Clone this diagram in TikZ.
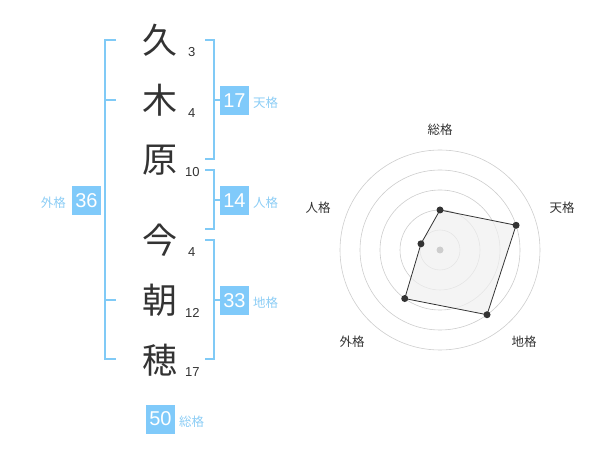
\documentclass[tikz,border=0pt]{standalone}
\usepackage{fontspec}
\usetikzlibrary{calc}
\setmainfont{Liberation Sans}
\newfontfamily\jp{Noto Sans CJK JP}
\definecolor{brk}{RGB}{128,202,246}
\definecolor{boxc}{RGB}{128,202,250}
\definecolor{lbl}{RGB}{140,205,245}
\definecolor{ink}{RGB}{51,51,51}
\definecolor{ring}{RGB}{205,205,205}
\begin{document}
\begin{tikzpicture}[x=1pt,y=-1pt,
  kanji/.style={font=\jp\fontsize{35}{35}\selectfont, text=ink, inner sep=0},
  strokes/.style={font=\fontsize{13}{13}\selectfont, text=ink, inner sep=0},
  numbox/.style={fill=boxc, text=white, minimum width=29pt, minimum height=29pt, inner sep=0, font=\fontsize{20}{20}\selectfont},
  kaku/.style={font=\jp\fontsize{12.5}{13}\selectfont, text=lbl, inner sep=0},
  bracket/.style={draw=brk, line width=2pt},
  rlabel/.style={font=\jp\fontsize{12.5}{13}\selectfont, text=ink, inner sep=0},
  dot/.style={circle, fill=ink, inner sep=0, minimum size=7pt}]
\useasboundingbox (0,0) rectangle (600,470);
% kanji
\node[kanji] (k1) at (160,40) {久};
\node[kanji] (k2) at (160,100) {木};
\node[kanji] (k3) at (160,160) {原};
\node[kanji] (k4) at (160,240) {今};
\node[kanji] (k5) at (160,300) {朝};
\node[kanji] (k6) at (160,360) {穂};
% stroke counts
\node[strokes, anchor=west] (s1) at (188,52.5) {3};
\node[strokes, anchor=west] (s2) at (188,113) {4};
\node[strokes, anchor=west] (s3) at (185,172.5) {10};
\node[strokes, anchor=west] (s4) at (188,252.5) {4};
\node[strokes, anchor=west] (s5) at (185,312.5) {12};
\node[strokes, anchor=west] (s6) at (185,372.5) {17};
% brackets
\draw[bracket] (116,40) -- (105,40) -- (105,359) -- (116,359);
\draw[bracket] (105,100) -- (116,100);
\draw[bracket] (105,300) -- (116,300);
\draw[bracket] (205,40) -- (214,40) -- (214,159) -- (205,159);
\draw[bracket] (214,100) -- (220,100);
\draw[bracket] (205,170) -- (214,170) -- (214,229) -- (205,229);
\draw[bracket] (214,200) -- (220,200);
\draw[bracket] (205,240) -- (214,240) -- (214,359) -- (205,359);
\draw[bracket] (214,300) -- (220,300);
% boxes
\node[numbox] (b17) at (234.5,100.5) {17};
\node[kaku, anchor=west] (t17) at (253,103) {天格};
\node[numbox] (b14) at (234.5,200.5) {14};
\node[kaku, anchor=west] (t14) at (253,203) {人格};
\node[numbox] (b36) at (86.5,200.5) {36};
\node[kaku, anchor=east] (t36) at (66,203) {外格};
\node[numbox] (b33) at (234.5,300.5) {33};
\node[kaku, anchor=west] (t33) at (253,303) {地格};
\node[numbox] (b50) at (160.5,419) {50};
\node[kaku, anchor=west] (t50) at (179,422) {総格};
% radar
\coordinate (c) at (440,250);
\foreach \r in {20,40,60,80,100} \draw[ring, line width=0.6pt] (c) circle[radius=\r];
\coordinate (p1) at ($(c)+(0,-40)$);
\coordinate (p2) at ($(c)+({80*cos(18)},{-80*sin(18)})$);
\coordinate (p3) at ($(c)+({80*cos(54)},{80*sin(54)})$);
\coordinate (p4) at ($(c)+({-60*cos(54)},{60*sin(54)})$);
\coordinate (p5) at ($(c)+({-20*cos(18)},{-20*sin(18)})$);
\filldraw[fill=black!6, fill opacity=0.7, draw=ink, line width=0.8pt] (p1) -- (p2) -- (p3) -- (p4) -- (p5) -- cycle;
\fill[ring] (c) circle[radius=3.5];
\foreach \p in {p1,p2,p3,p4,p5} \node[dot] at (\p) {};
\node[rlabel] (r1) at (440,130) {総格};
\node[rlabel] (r2) at (562,208) {天格};
\node[rlabel] (r3) at (524,342) {地格};
\node[rlabel] (r4) at (352,342) {外格};
\node[rlabel] (r5) at (318,208) {人格};
\end{tikzpicture}
\end{document}
